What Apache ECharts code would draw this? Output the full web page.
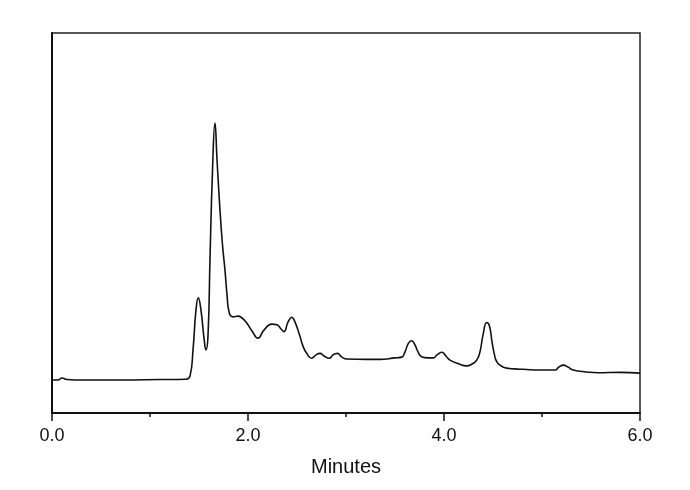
<!DOCTYPE html>
<html>
<head>
<meta charset="utf-8">
<script src="https://cdn.jsdelivr.net/npm/echarts@6/dist/echarts.min.js"></script>
<style>html,body{margin:0;padding:0;background:#fff}#c{width:690px;height:490px}</style>
</head>
<body>
<div id="c"></div>
<script>
const minutes = [0.000,0.061,0.102,0.153,0.235,0.694,1.102,1.367,1.408,1.439,1.469,1.493,1.520,1.551,1.571,1.592,1.612,1.638,1.663,1.684,1.714,1.740,1.765,1.786,1.809,1.847,1.898,1.939,1.987,2.041,2.102,2.163,2.242,2.296,2.337,2.367,2.408,2.446,2.480,2.531,2.561,2.599,2.650,2.694,2.735,2.776,2.830,2.867,2.911,2.959,3.007,3.211,3.347,3.500,3.568,3.602,3.638,3.670,3.704,3.735,3.772,3.837,3.891,3.929,3.977,4.020,4.061,4.143,4.232,4.286,4.334,4.367,4.398,4.436,4.464,4.490,4.515,4.538,4.571,4.622,4.724,4.809,4.980,5.133,5.173,5.218,5.265,5.319,5.456,5.574,5.796,6.000];
const signal = [8.7,8.7,9.2,8.8,8.7,8.7,8.8,8.9,9.7,16.6,27.1,30.3,27.1,19.7,16.6,20.5,40.3,63.9,76.3,66.6,53.4,44.2,37.6,31.1,26.3,25.3,25.5,25.0,23.7,21.6,19.7,21.8,23.4,23.2,22.1,21.4,23.9,25.2,23.9,20.1,17.6,15.7,14.4,15.3,15.7,15.0,14.4,15.3,15.7,14.7,14.2,14.1,14.1,14.5,14.7,16.1,18.4,19.0,17.9,16.1,14.8,14.5,14.5,15.3,16.0,15.0,13.9,13.0,12.4,12.9,13.9,16.1,20.5,23.8,22.9,18.7,15.3,13.5,12.6,11.9,11.6,11.5,11.3,11.3,12.1,12.6,12.1,11.3,10.8,10.6,10.7,10.5];
const xTicks = [0, 2, 4, 6];

const data = minutes.map((m, i) => [m, signal[i]]);
const chart = echarts.init(document.getElementById('c'), null, {renderer: 'canvas'});
chart.setOption({
  animation: false,
  backgroundColor: '#fff',
  grid: {left: 52, right: 50, top: 33, bottom: 77, show: true, borderColor: '#222', borderWidth: 1.5},
  xAxis: {
    type: 'value', min: 0, max: 6, interval: 2,
    name: 'Minutes', nameLocation: 'middle', nameGap: 44,
    nameTextStyle: {fontFamily: 'Liberation Sans', fontSize: 20, color: '#111'},
    axisLine: {show: true, onZero: false, lineStyle: {color: '#111', width: 2}},
    axisTick: {show: true, inside: false, length: 8, lineStyle: {color: '#111', width: 1.5}},
    minorTick: {show: true, splitNumber: 2, length: 4, lineStyle: {color: '#111', width: 1.5}},
    axisLabel: {margin: 14, fontFamily: 'Liberation Sans', fontSize: 18, color: '#111',
      formatter: v => xTicks.includes(v) ? v.toFixed(1) : ''},
    splitLine: {show: false}
  },
  yAxis: {
    type: 'value', min: 0, max: 100,
    axisLine: {show: true, lineStyle: {color: '#111', width: 2}},
    axisTick: {show: false}, axisLabel: {show: false}, splitLine: {show: false}
  },
  series: [{
    type: 'line', data: data, showSymbol: false, smooth: 0.5,
    lineStyle: {color: '#111', width: 1.6}
  }]
});
</script>
</body>
</html>
